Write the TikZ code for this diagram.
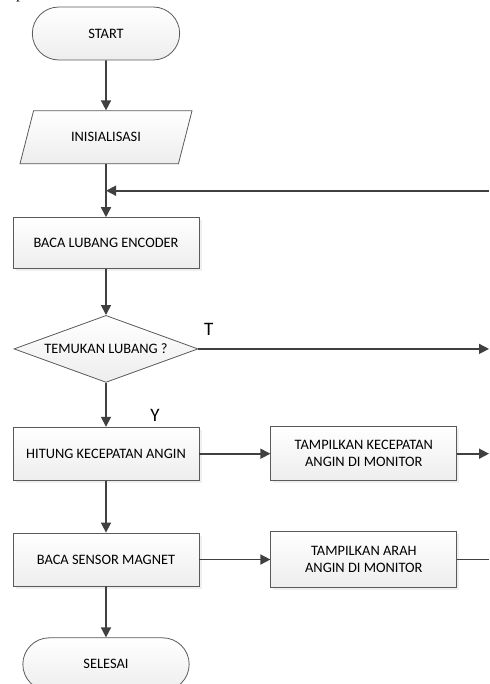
\documentclass[tikz,border=0pt]{standalone}
\usepackage{fontspec}
\setmainfont{Carlito}
\newfontfamily\serifp{Liberation Serif}
\usetikzlibrary{shapes.geometric, shapes.misc, arrows.meta, positioning, calc, shadows}
\definecolor{garis}{HTML}{404040}
\definecolor{tepi}{HTML}{5A5A5A}

\begin{document}
\begin{tikzpicture}[
        x=1pt, y=1pt,
        node distance=50pt and 71pt,
        font=\fontsize{14.4}{17}\selectfont,
        box_style/.style={draw=tepi, line width=0.8pt, top color=white, bottom color=gray!14, align=center},
        term_style/.style={box_style, rounded rectangle, minimum width=154pt, minimum height=53pt},
        io_style/.style={box_style, trapezium, trapezium left angle=66, trapezium right angle=114, trapezium stretches=true, minimum width=172pt, minimum height=53pt},
        proc_style/.style={box_style, rectangle, minimum width=186pt, minimum height=53pt, drop shadow={shadow xshift=2.5pt, shadow yshift=-2.5pt, fill=gray!25}},
        dec_style/.style={box_style, diamond, aspect=2.75, inner sep=0pt, minimum width=184pt, minimum height=67pt},
        line/.style={-{Triangle[length=10pt,width=10pt]}, line width=1.6pt, draw=garis},
        plain_line/.style={line width=1.6pt, draw=garis},
        label_style/.style={font=\fontsize{19}{22}\selectfont}
    ]

    \useasboundingbox (0,0) rectangle (489,-684);

    % potongan teks halaman
    \node (hal) [font=\serifp\fontsize{16}{16}\selectfont, anchor=base west, inner sep=0pt] at (16,1) {p};

    % Alur utama (kiri)
    \node (start) [term_style] at (106,-33.5) {START};
    \node (init) [io_style, below=50pt of start] {INISIALISASI};
    \node (baca) [proc_style, minimum height=51pt, below=53pt of init] {BACA LUBANG ENCODER};
    \node (temukan) [dec_style, below=46pt of baca] {TEMUKAN LUBANG ?};
    \node (hitung) [proc_style, below=44pt of temukan] {HITUNG KECEPATAN ANGIN};
    \node (sensor) [proc_style, below=52pt of hitung] {BACA SENSOR MAGNET};
    \node (selesai) [term_style, minimum width=173pt, below=51pt of sensor] {SELESAI};

    % Tampilan (kanan)
    \node (tampil_kec) [proc_style, minimum height=54pt, right=of hitung] {TAMPILKAN KECEPATAN\\ANGIN DI MONITOR};
    \node (tampil_arah) [proc_style, minimum height=56pt, right=of sensor] {TAMPILKAN ARAH\\ANGIN DI MONITOR};

    % Titik bantu
    \coordinate (kanan) at (489,0);
    \coordinate (gabung) at ($(init.south)!0.5!(baca.north)$);

    % Panah
    \draw [line] (start) -- (init);
    \draw [line] (init) -- (baca);
    \draw [line] (gabung -| kanan) -- (gabung);
    \draw [line] (baca) -- (temukan);
    \draw [line] (temukan.east) -- node[label_style, pos=0.036, yshift=20pt] {T} (temukan.east -| kanan);
    \draw [line] (temukan) -- node[label_style, pos=0.73, xshift=49pt] {Y} (hitung);
    \draw [line] (hitung) -- (tampil_kec);
    \draw [line] (tampil_kec) -- (tampil_kec -| kanan);
    \draw [line] (hitung) -- (sensor);
    \draw [line] (sensor) -- (tampil_arah);
    \draw [plain_line] (tampil_arah) -- (tampil_arah -| kanan);
    \draw [line] (sensor) -- (selesai);

\end{tikzpicture}
\end{document}
